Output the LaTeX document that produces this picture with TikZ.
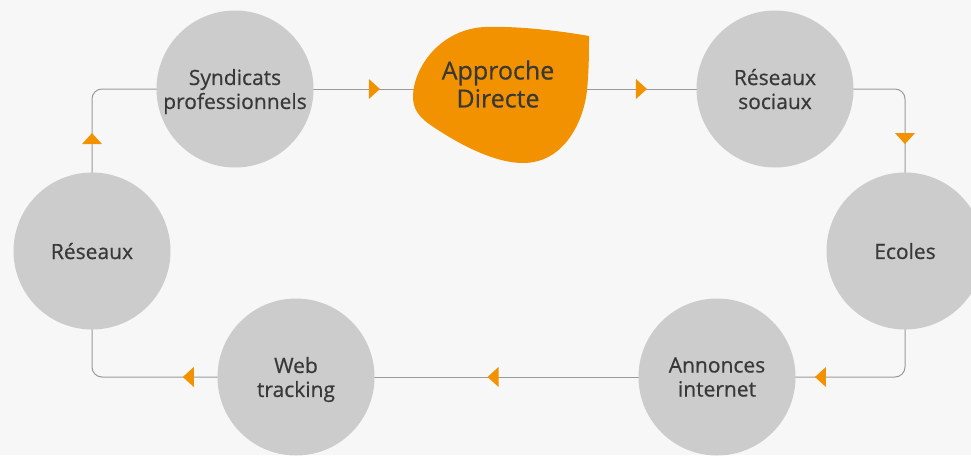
\documentclass[tikz,border=0pt]{standalone}
\usepackage{fontspec}
\setmainfont{Open Sans}[FakeBold=0.5]
\usetikzlibrary{positioning,backgrounds}
\definecolor{bgcol}{HTML}{F7F7F7}
\definecolor{circcol}{HTML}{CCCCCC}
\definecolor{leafcol}{HTML}{F39200}
\definecolor{linecol}{HTML}{9A9A9A}
\definecolor{txtcol}{HTML}{383838}
\tikzset{
mycirc/.style={
  circle,
  fill=circcol,
  minimum size=157pt,
  inner sep=0pt,
  align=center,
  text=txtcol,
  text depth=0pt,
  font=\fontsize{21}{24}\selectfont
  },
mylink/.style={
  draw=linecol,
  line width=1pt,
  rounded corners=10pt
  },
mytip/.pic={
  \fill[leafcol,sharp corners] (-5.5,-10) -- (5.5,0) -- (-5.5,10) -- cycle;
  }
}

\begin{document}
\begin{tikzpicture}[x=1pt,y=-1pt]
\useasboundingbox (0,0) rectangle (971,455);
\clip (0,0) rectangle (971,455);
% circles
\node[mycirc] (synd) at (235,89) {Syndicats\\professionnels};
\node[mycirc] (soc) at (775,89) {Réseaux\\sociaux};
\node[mycirc] (ecol) at (905,251) {Ecoles};
\node[mycirc] (ann) at (717,377) {Annonces\\internet};
\node[mycirc] (web) at (296,377) {Web\\tracking};
\node[mycirc] (res) at (92,251) {Réseaux};
% leaf
\fill[leafcol] (589,36) .. controls (555,30) and (515,26) .. (485,27)
  .. controls (440,29) and (413,68) .. (413,97)
  .. controls (413,110) and (420,118) .. (432,126)
  .. controls (460,145) and (495,163) .. (523,163)
  .. controls (565,163) and (584,120) .. (587,90)
  .. controls (589,70) and (589,50) .. (589,36) -- cycle;
\node[text=txtcol,align=center,font=\fontsize{25}{28}\selectfont,text depth=10pt] (appr) at (498,89) {Approche\\Directe};
% loop
\begin{scope}[on background layer]
\fill[bgcol] (0,0) rectangle (971,455);
\path[mylink] (synd.center) -- pic[pos=.53,sloped,allow upside down]{mytip} (appr.center);
\path[mylink] (appr.center) -- pic[pos=.518,sloped,allow upside down]{mytip} (soc.center);
\path[mylink] (soc.center) -| pic[pos=.653,sloped,allow upside down]{mytip} (ecol.center);
\path[mylink] (ecol.center) |- pic[pos=.725,sloped,allow upside down]{mytip} (ann.center);
\path[mylink] (ann.center) -- pic[pos=.532,sloped,allow upside down]{mytip} (web.center);
\path[mylink] (web.center) -| pic[pos=.264,sloped,allow upside down]{mytip} (res.center);
\path[mylink] (res.center) |- pic[pos=.347,sloped,allow upside down]{mytip} (synd.center);
\end{scope}
\end{tikzpicture}
\end{document}
